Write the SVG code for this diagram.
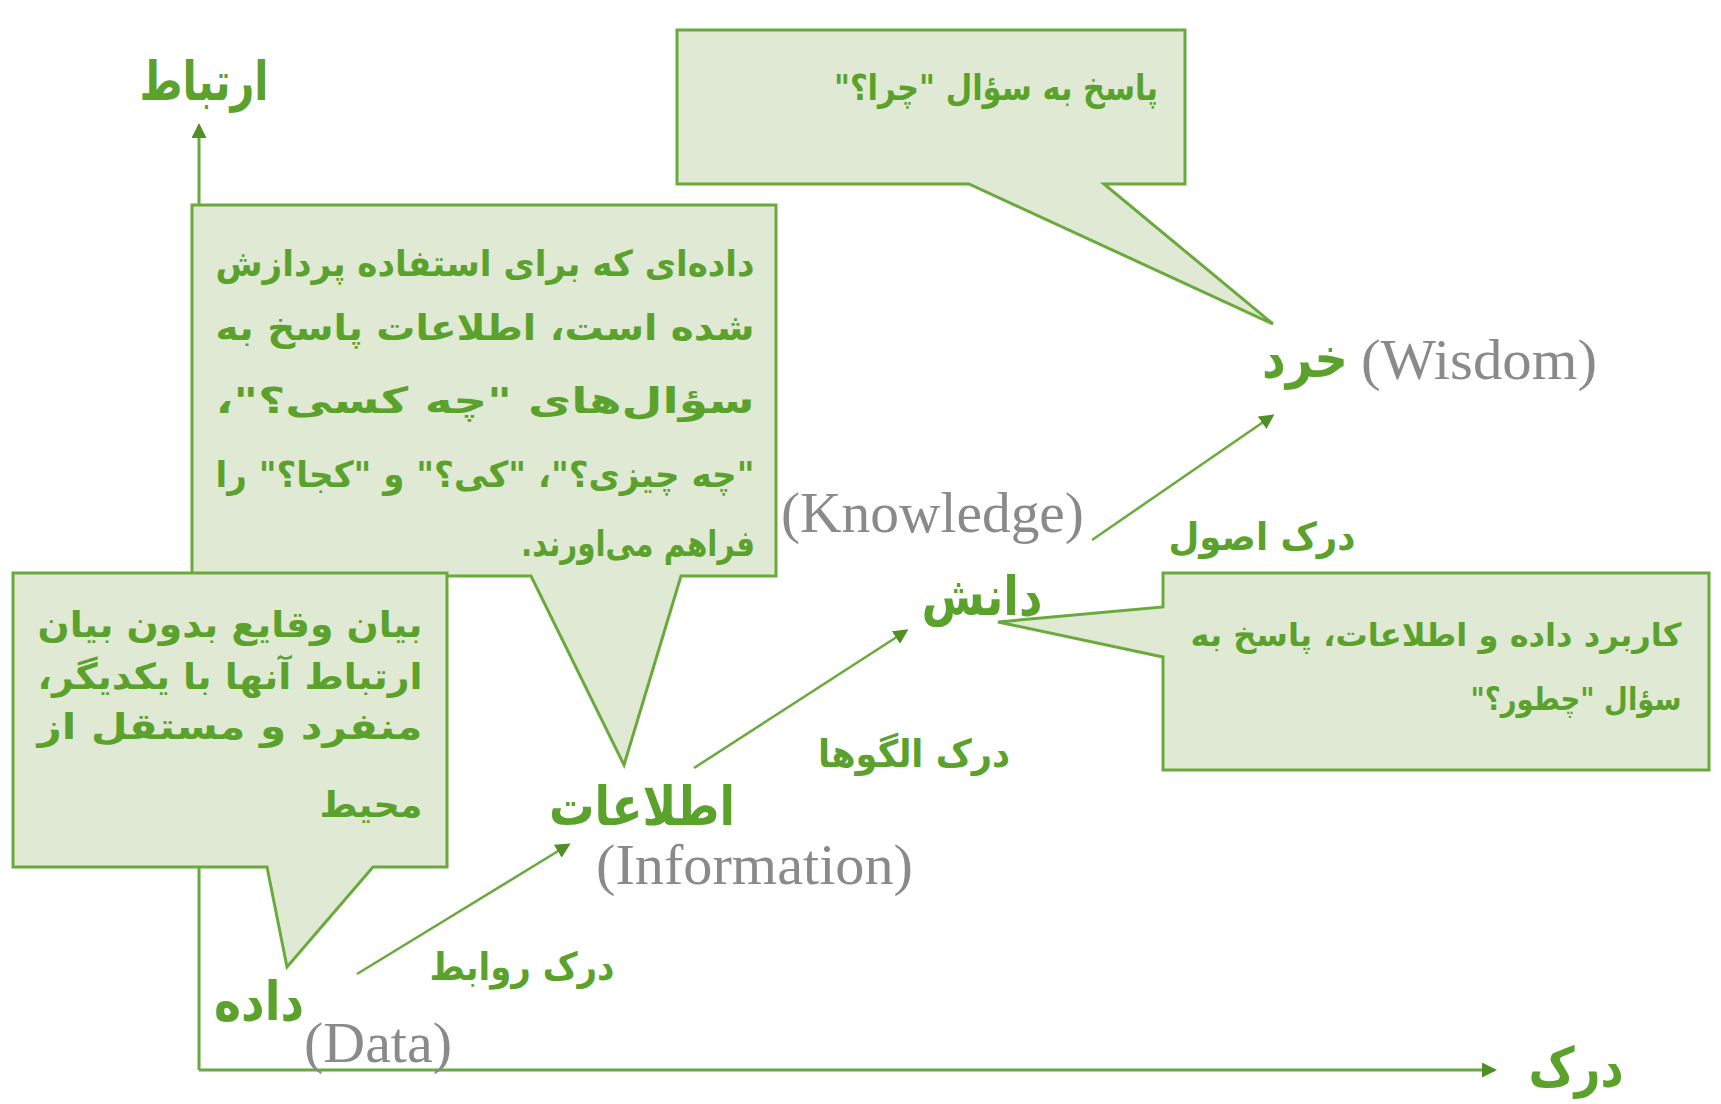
<svg xmlns="http://www.w3.org/2000/svg" width="1721" height="1104" viewBox="0 0 1721 1104">
<style>
.box{fill:#e0e9d3;stroke:#6aaa3c;stroke-width:3;stroke-linejoin:miter}
.fa{font-family:"DejaVu Sans",sans-serif;font-weight:bold;fill:#5aa22c;direction:rtl;text-anchor:middle}
.bt{font-size:36px}
.bs{font-size:32px}
.big{font-size:54px}
.mid{font-size:38px}
.en{font-family:"Liberation Serif",serif;fill:#8a8a8a;font-size:58px}
.ax{stroke:#6aaa3c;stroke-width:3;fill:none}
.ar{stroke:#6aaa3c;stroke-width:2.5;fill:none}
</style>
<defs>
<marker id="ah" viewBox="0 0 10 10" refX="8" refY="5" markerWidth="5" markerHeight="5" orient="auto" markerUnits="strokeWidth">
<path d="M0,0 L10,5 L0,10 z" fill="#4f8f26"/>
</marker>
<marker id="ah2" viewBox="0 0 10 10" refX="8" refY="5" markerWidth="6" markerHeight="6" orient="auto" markerUnits="strokeWidth">
<path d="M0,0 L10,5 L0,10 z" fill="#4f8f26"/>
</marker>
</defs>
<rect width="1721" height="1104" fill="#ffffff"/>

<g id="connectors">
<line class="ax" x1="199" y1="1070" x2="199" y2="126" marker-end="url(#ah)"/>
<line class="ax" x1="199" y1="1070" x2="1494" y2="1070" marker-end="url(#ah)"/>
<line class="ar" x1="357" y1="974" x2="568" y2="845" marker-end="url(#ah2)"/>
<line class="ar" x1="694" y1="768" x2="906" y2="631" marker-end="url(#ah2)"/>
<line class="ar" x1="1092" y1="540" x2="1272" y2="416" marker-end="url(#ah2)"/>
</g>

<g id="axis-labels">
<text class="fa big" x="204" y="100" textLength="129" lengthAdjust="spacingAndGlyphs">ارتباط</text>
<text class="fa big" x="1576" y="1086" textLength="95" lengthAdjust="spacingAndGlyphs">درک</text>
</g>

<g id="wisdom-note">
<path class="box" d="M677,30 H1185 V184 H1104 L1273,324 L969,184 H677 Z"/>
<text class="fa bt" x="996" y="100" textLength="324" lengthAdjust="spacingAndGlyphs">پاسخ به سؤال "چرا؟"</text>
</g>

<g id="information-note">
<path class="box" d="M192,205 H776 V576 H681 L624,765 L531,576 H192 Z"/>
<text class="fa bt" x="485" y="276" textLength="539" lengthAdjust="spacingAndGlyphs">داده‌ای که برای استفاده پردازش</text>
<text class="fa bt" x="485" y="340" textLength="539" lengthAdjust="spacingAndGlyphs">شده است، اطلاعات پاسخ به</text>
<text class="fa bt" x="485" y="413" textLength="539" lengthAdjust="spacingAndGlyphs">سؤال‌های "چه کسی؟"،</text>
<text class="fa bt" x="485" y="487" textLength="539" lengthAdjust="spacingAndGlyphs">"چه چیزی؟"، "کی؟" و "کجا؟" را</text>
<text class="fa bt" x="638" y="556" textLength="234" lengthAdjust="spacingAndGlyphs">فراهم می‌اورند.</text>
</g>

<g id="data-note">
<path class="box" d="M13,573 H447 V867 H373 L287,967 L267,867 H13 Z"/>
<text class="fa bt" x="230" y="637" textLength="385" lengthAdjust="spacingAndGlyphs">بیان وقایع بدون بیان</text>
<text class="fa bt" x="230" y="689" textLength="385" lengthAdjust="spacingAndGlyphs">ارتباط آنها با یکدیگر،</text>
<text class="fa bt" x="230" y="739" textLength="385" lengthAdjust="spacingAndGlyphs">منفرد و مستقل از</text>
<text class="fa bt" x="371" y="817" textLength="103" lengthAdjust="spacingAndGlyphs">محیط</text>
</g>

<g id="knowledge-note">
<path class="box" d="M1163,573 H1709 V770 H1163 V657 L998,622 L1163,607 Z"/>
<text class="fa bs" x="1436" y="646" textLength="491" lengthAdjust="spacingAndGlyphs">کاربرد داده و اطلاعات، پاسخ به</text>
<text class="fa bs" x="1576" y="710" textLength="211" lengthAdjust="spacingAndGlyphs">سؤال "چطور؟"</text>
</g>

<g id="data">
<text class="fa big" x="259" y="1020" textLength="90" lengthAdjust="spacingAndGlyphs">داده</text>
<text class="en" x="304" y="1062" textLength="148" lengthAdjust="spacingAndGlyphs">(Data)</text>
</g>

<g id="information">
<text class="fa big" x="642" y="825" textLength="186" lengthAdjust="spacingAndGlyphs">اطلاعات</text>
<text class="en" x="596" y="884" textLength="317" lengthAdjust="spacingAndGlyphs">(Information)</text>
</g>

<g id="knowledge">
<text class="en" x="781" y="532" textLength="303" lengthAdjust="spacingAndGlyphs">(Knowledge)</text>
<text class="fa big" x="982" y="615" textLength="121" lengthAdjust="spacingAndGlyphs">دانش</text>
</g>

<g id="wisdom">
<text class="fa big" x="1305" y="377" textLength="86" lengthAdjust="spacingAndGlyphs">خرد</text>
<text class="en" x="1361" y="379" textLength="236" lengthAdjust="spacingAndGlyphs">(Wisdom)</text>
</g>

<g id="edge-labels">
<text class="fa mid" x="522" y="980" textLength="185" lengthAdjust="spacingAndGlyphs">درک روابط</text>
<text class="fa mid" x="914" y="767" textLength="192" lengthAdjust="spacingAndGlyphs">درک الگوها</text>
<text class="fa mid" x="1262" y="550" textLength="187" lengthAdjust="spacingAndGlyphs">درک اصول</text>
</g>
</svg>
